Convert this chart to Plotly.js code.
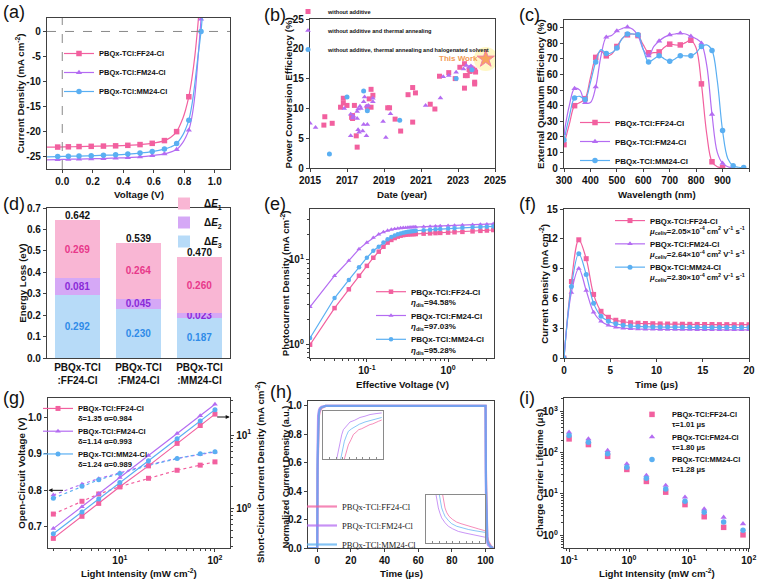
<!DOCTYPE html>
<html><head><meta charset="utf-8">
<script src="https://cdn.plot.ly/plotly-3.0.1.min.js"></script>
<style>body{margin:0;background:#fff}#chart{width:760px;height:581px}</style>
</head><body><div id="chart"></div>
<script>
// ---------- DATA ----------
const names = ['PBQx-TCl:FF24-Cl','PBQx-TCl:FM24-Cl','PBQx-TCl:MM24-Cl'];
// (a) J-V
const aV=[-0.1,-0.03,0.04,0.11,0.19,0.27,0.35,0.43,0.51,0.59,0.67,0.71,0.75,0.79,0.81,0.83,0.85,0.87,0.89,0.91,0.93];
const aMarkV=[-0.03,0.04,0.11,0.19,0.27,0.35,0.43,0.51,0.59,0.67,0.75,0.83,0.91];
const aFF=[-23.2,-23.2,-23.15,-23.1,-23.05,-23.0,-22.95,-22.85,-22.7,-22.45,-21.9,-21.3,-20.1,-17.5,-15.6,-13.1,-9.5,-4.8,1.5,9,18];
const aFM=[-25.75,-25.7,-25.65,-25.6,-25.55,-25.5,-25.4,-25.3,-25.15,-24.9,-24.55,-24.2,-23.7,-22.3,-21.2,-19.8,-17.2,-12.8,-5.5,2.5,12];
const aMM=[-25.15,-25.1,-25.05,-25.0,-24.95,-24.85,-24.75,-24.6,-24.4,-24.1,-23.6,-23.2,-22.5,-20.8,-19.5,-17.8,-14.8,-10.3,-5.0,0.0,8];
// (b) PCE survey
const bPinkYear=[2015.8,2015.75,2016.2,2016.65,2016.8,2016.8,2017.0,2017.25,2017.3,2017.3,2017.4,2017.5,2017.55,2018.1,2018.2,2018.3,2018.3,2018.4,2019.2,2019.3,2019.6,2019.9,2020.3,2020.55,2020.55,2020.7,2021.5,2021.75,2022.0,2022.5,2022.85,2023.1,2023.35,2023.4,2023.35,2023.5,2023.6,2023.65,2023.7,2023.8,2023.9,2023.95,2023.9,2023.9];
const bPinkPCE=[8.6,7.2,7.5,10.2,11.7,10.9,10.5,8.5,8.8,8.3,10.5,5.4,3.5,10.2,11.6,13.2,10.2,12.2,10.1,10.1,8.2,6.2,12.3,13.5,7.7,12.6,10.7,9.9,15.4,16.0,15.0,16.9,17.5,15.5,13.4,15.5,16.5,16.2,16.8,16.6,16.4,16.1,14.4,14.1];
const bPurpleYear=[2015.0,2015.3,2016.85,2017.2,2017.2,2017.3,2017.35,2017.55,2017.55,2017.6,2017.6,2017.65,2017.7,2017.75,2017.85,2017.9,2017.9,2017.95,2018.05,2018.05,2018.1,2018.15,2018.4,2018.4,2018.95,2019.1,2019.35,2021.25,2022.05,2022.2,2022.5,2022.9,2023.3,2023.45,2023.6,2023.7,2023.8];
const bPurplePCE=[7.5,6.8,10.0,9.0,5.4,8.4,8.7,8.3,9.5,9.9,6.4,6.0,10.35,10.0,6.2,7.3,11.1,11.9,10.35,5.4,7.3,10.5,11.1,11.7,7.8,5.1,9.1,10.5,11.75,15.3,15.5,16.05,16.6,17.2,16.9,17.1,16.6];
const bBlueYear=[2016.05,2017.0,2017.9,2018.1,2019.85,2022.9,2023.75];
const bBluePCE=[2.35,11.9,12.9,9.6,8.0,15.0,16.5];
const bStarYear=[2024.5], bStarPCE=[18.3];
const bNames=['without additive','without additive and thermal annealing','without additive, thermal annealing and halogenated solvent'];
// (c) EQE
const cWL=[300,320,340,360,380,400,420,440,460,480,500,520,540,560,580,600,620,640,660,680,700,720,740,760,780,800,820,840,860,880,900,920,940,960,980];
const cFF=[15,28,40,42,44.5,58,71,75,72,73,78,83,85.5,86,85,79,74,74,74.5,77.5,79.5,79,79,80.5,82,77,54,22,4,0.8,0.2];
const cFM=[22,40,51,50,42,42,52,72,84,85,88,89.5,90.5,89,85,76,72,78,81.5,84,85.5,86,86.5,86,84.5,83,80,66,34.5,10,3,0.8,0.2];
const cMM=[18,33,45,46,44,55,68,76,73.5,74,77,83,86,86,85.5,76,68,70,72,70,68.5,70,72,72,72,74,78,79,75.5,56,24,6,1.5,0.5,0.3];
// (d) energy loss
const dCats=['PBQx-TCl<br>:FF24-Cl','PBQx-TCl<br>:FM24-Cl','PBQx-TCl<br>:MM24-Cl'];
const dE1=[0.269,0.264,0.260];
const dE2=[0.081,0.045,0.023];
const dE3=[0.292,0.230,0.187];
const dTotal=[0.642,0.539,0.470];
// (e) Jph-Veff
const eV=[0.02,0.04,0.06,0.08,0.10,0.12,0.14,0.16,0.18,0.20,0.22,0.24,0.26,0.28,0.30,0.32,0.34,0.36,0.38,0.40,0.5,0.6,0.7,0.8,1.0,1.2,1.5,2.0,2.5,3.0,3.6];
const eFF=[1.0,2.7,4.5,6.5,8.5,10.6,12.5,14.3,16.0,17.2,18.1,18.8,19.3,19.6,19.8,19.95,20.05,20.1,20.15,20.2,20.4,20.55,20.7,20.8,21.0,21.2,21.4,21.7,22.0,22.2,22.5];
const eFM=[2.8,6.5,9.8,13.4,16.0,18.3,20.0,21.3,22.2,22.8,23.2,23.5,23.7,23.85,24.0,24.1,24.2,24.3,24.35,24.4,24.6,24.8,24.95,25.1,25.3,25.5,25.7,26.0,26.2,26.4,26.6];
const eMM=[1.2,3.55,5.8,8.2,10.6,12.8,14.3,16.0,17.5,18.6,19.4,20.0,20.5,20.9,21.2,21.45,21.65,21.8,21.95,22.05,22.4,22.7,22.9,23.1,23.4,23.6,23.9,24.2,24.45,24.6,24.8];
const eEta=['94.58%','97.03%','95.28%'];
// (f) CELIV
const fT=[0,0.8,1.6,2.4,3.2,4.0,4.8,5.6,6.4,7.2,8.0,8.8,9.6,10.4,11.2,12.0,12.8,13.6,14.4,15.2,16.0,16.8,17.6,18.4,19.2,20.0];
const fFF=[0,7.7,11.9,10.0,6.4,4.7,4.1,3.8,3.65,3.55,3.5,3.47,3.45,3.43,3.42,3.41,3.4,3.39,3.38,3.37,3.37,3.36,3.36,3.35,3.35,3.35];
const fFM=[0,6.6,9.0,6.8,4.6,3.7,3.3,3.1,3.0,2.95,2.92,2.9,2.89,2.88,2.87,2.87,2.86,2.86,2.85,2.85,2.85,2.84,2.84,2.84,2.84,2.84];
const fMM=[0,7.2,10.5,8.4,5.5,4.2,3.7,3.45,3.3,3.22,3.18,3.15,3.13,3.12,3.11,3.1,3.1,3.09,3.09,3.08,3.08,3.08,3.07,3.07,3.07,3.07];
const fMu=['2.05','2.64','2.30'];
// (g) light-intensity dependence
const gI=[2,4,6,10,20,40,70,100];
const gVocFF=[0.735,0.770,0.790,0.810,0.833,0.855,0.869,0.878];
const gVocFM=[0.787,0.817,0.832,0.848,0.870,0.888,0.899,0.905];
const gVocMM=[0.778,0.811,0.829,0.846,0.868,0.887,0.900,0.906];
const gJscFF=[0.39,0.78,1.17,1.97,3.8,7.7,13.5,19.3];
const gJscFM=[0.53,1.05,1.58,2.64,5.25,10.5,18.3,26.3];
const gJscMM=[0.45,0.89,1.34,2.25,4.45,8.9,15.5,22.2];
const gDelta=['1.35','1.14','1.24'], gAlpha=['0.984','0.993','0.989'];
// (h) TPC normalized
const hT=[-5.5,-0.2,0,0.2,0.5,1,1.5,2.5,5,99.8,100,100.2,100.5,101,101.5,102,103,104.5];
const hFF=[0,0,0,0.55,0.85,0.93,0.96,0.985,1,1,1,0.55,0.2,0.08,0.05,0.035,0.015,0];
const hFM=[0,0,0,0.7,0.93,0.97,0.985,0.995,1,1,1,0.4,0.12,0.04,0.02,0.015,0.005,0];
const hMM=[0,0,0,0.62,0.9,0.95,0.975,0.99,1,1,1,0.48,0.16,0.06,0.035,0.025,0.01,0];
const hRiseT_FF=[0.65,0.72,0.77,0.85,0.92,1.0,1.08,1.17,1.25,1.33,1.42,1.5,1.58,1.67,1.77];
const hRiseY_FF=[0.85,0.875,0.894,0.91,0.926,0.933,0.941,0.944,0.949,0.953,0.957,0.959,0.964,0.967,0.971];
const hRiseT_FM=[0.42,0.47,0.52,0.57,0.62,0.7,0.82,0.95,1.12,1.27,1.42,1.6,1.77];
const hRiseY_FM=[0.85,0.878,0.905,0.925,0.941,0.952,0.965,0.97,0.979,0.983,0.988,0.991,0.993];
const hRiseT_MM=[0.54,0.6,0.65,0.71,0.77,0.87,0.97,1.1,1.27,1.42,1.57,1.77];
const hRiseY_MM=[0.85,0.88,0.905,0.922,0.936,0.944,0.951,0.958,0.965,0.969,0.975,0.979];
const hFallT_FF=[100.5,100.53,100.57,100.62,100.69,100.8,100.92,101.05,101.22,101.4,101.57,101.77];
const hFallY_FF=[0.15,0.13,0.109,0.095,0.083,0.073,0.065,0.06,0.054,0.049,0.044,0.038];
const hFallT_FM=[100.3,100.33,100.37,100.42,100.47,100.57,100.67,100.8,100.97,101.17,101.37,101.57,101.77];
const hFallY_FM=[0.15,0.13,0.109,0.092,0.078,0.063,0.052,0.044,0.036,0.031,0.026,0.022,0.018];
const hFallT_MM=[100.4,100.43,100.47,100.52,100.57,100.67,100.77,100.92,101.07,101.27,101.47,101.77];
const hFallY_MM=[0.15,0.13,0.109,0.095,0.083,0.07,0.06,0.052,0.047,0.042,0.038,0.033];
// (i) lifetime
const iI=[0.1,0.21,0.44,0.92,1.95,4.1,8.6,18,38,80];
const iFF=[214,156,81,39,20,11,5.5,2.8,1.55,1.02];
const iFM=[309,214,112,53,28,16,8.3,4.3,2.7,1.88];
const iMM=[257,178,93,44,24,13.2,6.6,3.6,2.1,1.32];
const iTau=['1.01','1.80','1.28'];

// ---------- STYLE ----------
const F='Liberation Sans, Arial, Helvetica, sans-serif';
const FSERIF='Liberation Serif, Times New Roman, serif';
const COL=['#F2609F','#B46CF2','#5AAFF2'];
const SYM=['square','triangle-up','circle'];
const W=760,H=581;
function dx(a,b){return [a/W,b/W];}
function dy(t,b){return [1-b/H,1-t/H];}
const tickF={family:F,size:10,color:'#111',weight:'bold'};
const titleF={family:F,size:9.7,color:'#111',weight:'bold'};
function axis(o){
  const a={showline:true,linecolor:'#404040',linewidth:1.2,mirror:true,ticks:'outside',ticklen:3,tickwidth:1,tickcolor:'#404040',showgrid:false,zeroline:false,tickfont:tickF,fixedrange:true};
  return Object.assign(a,o);
}
const minorLog={ticks:'outside',ticklen:2,tickcolor:'#404040',dtick:'D1'};
function leg(xpx,ypx,size,extra){
  return Object.assign({x:xpx/W,y:1-ypx/H,xanchor:'left',yanchor:'top',bgcolor:'rgba(0,0,0,0)',borderwidth:0,
    font:{family:F,size:size,color:'#111',weight:'bold'},tracegroupgap:0,itemwidth:30},extra||{});
}
function selIdx(xs,marks){const r=[];xs.forEach((v,i)=>{if(marks.includes(v))r.push(i);});return r;}

const traces=[];
// (a)
[aFF,aFM,aMM].forEach((y,k)=>traces.push({x:aV,y:y,xaxis:'x',yaxis:'y',type:'scatter',mode:'lines+markers',name:names[k],legend:'legend',
  line:{color:COL[k],width:1.2,shape:'spline'},marker:{symbol:SYM[k],size:5.5,color:COL[k]},
  selectedpoints:selIdx(aV,aMarkV),selected:{marker:{opacity:1}},unselected:{marker:{opacity:0}}}));
// (b)
traces.push({x:bStarYear,y:bStarPCE,xaxis:'x2',yaxis:'y2',type:'scatter',mode:'markers',showlegend:false,hoverinfo:'skip',
  marker:{size:24,color:'rgba(255,240,150,0.55)'}});
[[bPinkYear,bPinkPCE],[bPurpleYear,bPurplePCE],[bBlueYear,bBluePCE]].forEach((d,k)=>traces.push({x:d[0],y:d[1],xaxis:'x2',yaxis:'y2',type:'scatter',mode:'markers',
  name:bNames[k],legend:'legend2',marker:{symbol:SYM[k],size:5,color:COL[k]}}));
traces.push({x:bStarYear,y:bStarPCE,xaxis:'x2',yaxis:'y2',type:'scatter',mode:'markers',showlegend:false,
  marker:{symbol:'star',size:13,color:'#F7A45E',line:{color:'#F27FA8',width:1}}});
// (c)
const cMarkWL=[300,340,380,420,460,500,540,580,620,660,700,740,780,820,860,900,940,980];
[cFF,cFM,cMM].forEach((y,k)=>{const xs=cWL.slice(0,y.length);traces.push({x:xs,y:y,xaxis:'x3',yaxis:'y3',type:'scatter',mode:'lines+markers',name:names[k],legend:'legend3',
  line:{color:COL[k],width:1.2,shape:'spline'},marker:{symbol:SYM[k],size:5.5,color:COL[k]},
  selectedpoints:selIdx(xs,cMarkWL),selected:{marker:{opacity:1}},unselected:{marker:{opacity:0}}});});
// (d)
const dFill=['#B7DBF8','#D5A8F6','#F9B6D4'];
const dText=['#2F8BE8','#8A2BD8','#E8388A'];
[[dE3,'Δ<i>E</i><sub>3</sub>'],[dE2,'Δ<i>E</i><sub>2</sub>'],[dE1,'Δ<i>E</i><sub>1</sub>']].forEach((d,k)=>traces.push({
  x:dCats,y:d[0],xaxis:'x4',yaxis:'y4',type:'bar',name:d[1],legend:'legend4',marker:{color:dFill[k],line:{width:0}},
  texttemplate:'%{y:.3f}',textposition:'inside',insidetextanchor:'middle',textangle:0,
  textfont:{family:F,size:10,color:dText[k],weight:'bold'},hoverinfo:'skip'}));
// (e)
[eFF,eFM,eMM].forEach((y,k)=>traces.push({x:eV,y:y,xaxis:'x5',yaxis:'y5',type:'scatter',mode:'lines+markers',
  name:names[k]+'<br><i>η</i><sub>dis</sub>='+eEta[k],legend:'legend5',
  line:{color:COL[k],width:1.2},marker:{symbol:SYM[k],size:4.5,color:COL[k]}}));
// (f)
[fFF,fFM,fMM].forEach((y,k)=>traces.push({x:fT,y:y,xaxis:'x6',yaxis:'y6',type:'scatter',mode:'lines+markers',
  name:names[k]+'<br><i>μ</i><sub>celiv</sub>='+fMu[k]+'×10<sup>-4</sup> cm<sup>2</sup> V<sup>-1</sup> s<sup>-1</sup>',legend:'legend6',
  line:{color:COL[k],width:1.2,shape:'spline'},marker:{symbol:SYM[k],size:5,color:COL[k]}}));
// (g)
[gVocFF,gVocFM,gVocMM].forEach((y,k)=>traces.push({x:gI,y:y,xaxis:'x7',yaxis:'y7',type:'scatter',mode:'lines+markers',showlegend:false,
  line:{color:COL[k],width:1.2,dash:'dot'},marker:{symbol:SYM[k],size:5,color:COL[k]}}));
[gJscFF,gJscFM,gJscMM].forEach((y,k)=>traces.push({x:gI,y:y,xaxis:'x7',yaxis:'y8',type:'scatter',mode:'lines+markers',
  name:names[k]+'<br>δ='+gDelta[k]+' α='+gAlpha[k],legend:'legend7',
  line:{color:COL[k],width:1.2},marker:{symbol:SYM[k],size:5,color:COL[k]}}));
// (h)
[hFF,hFM,hMM].forEach((y,k)=>traces.push({x:hT,y:y,xaxis:'x9',yaxis:'y9',type:'scatter',mode:'lines',name:names[k],legend:'legend9',
  opacity:0.75,line:{color:COL[k],width:2.2}}));
[[hRiseT_FF,hRiseY_FF],[hRiseT_FM,hRiseY_FM],[hRiseT_MM,hRiseY_MM]].forEach((d,k)=>traces.push({x:d[0],y:d[1],xaxis:'x10',yaxis:'y10',type:'scatter',mode:'lines',showlegend:false,
  line:{color:COL[k],width:0.9},opacity:0.8}));
[[hFallT_FF,hFallY_FF],[hFallT_FM,hFallY_FM],[hFallT_MM,hFallY_MM]].forEach((d,k)=>traces.push({x:d[0],y:d[1],xaxis:'x11',yaxis:'y11',type:'scatter',mode:'lines',showlegend:false,
  line:{color:COL[k],width:0.9},opacity:0.8}));
// (i)
[iFF,iFM,iMM].forEach((y,k)=>traces.push({x:iI,y:y,xaxis:'x12',yaxis:'y12',type:'scatter',mode:'markers',
  name:names[k]+'<br>τ='+iTau[k]+' μs',legend:'legend12',marker:{symbol:SYM[k],size:5.5,color:COL[k]}}));

// ---------- LAYOUT ----------
const layout={width:W,height:H,margin:{l:0,r:0,t:0,b:0,autoexpand:false},paper_bgcolor:'#fff',plot_bgcolor:'#fff',
  font:{family:F,color:'#111'},showlegend:true,barmode:'stack',bargap:0.26,
  uniformtext:{mode:'show',minsize:9.5},
  xaxis:axis({domain:dx(47,230),anchor:'y',range:[-0.1,1.1],dtick:0.2,tickformat:'.1f'}),
  yaxis:axis({domain:dy(18,169),anchor:'x',range:[-27.6,2.7],tickvals:[0,-5,-10,-15,-20,-25],ticktext:['0','-5','-10','-15','-20','-25']}),
  xaxis2:axis({domain:dx(310,495),anchor:'y2',range:[2015,2025],tick0:2015,dtick:2}),
  yaxis2:axis({domain:dy(19,168),anchor:'x2',range:[0,25],tickvals:[0,5,10,15,20,25]}),
  xaxis3:axis({domain:dx(564,749),anchor:'y3',range:[300,1000],dtick:100}),
  yaxis3:axis({domain:dy(20,168),anchor:'x3',range:[0,95],tickvals:[0,10,20,30,40,50,60,70,80,90]}),
  xaxis4:axis({domain:dx(47,230),anchor:'y4',type:'category',ticks:''}),
  yaxis4:axis({domain:dy(208,358),anchor:'x4',range:[0,0.7],dtick:0.1,tickformat:'.1f'}),
  xaxis5:axis({domain:dx(310,494),anchor:'y5',type:'log',range:[-1.70,0.565],tickvals:[0.1,1],ticktext:['10<sup>-1</sup>','10<sup>0</sup>'],minor:minorLog}),
  yaxis5:axis({domain:dy(209,358),anchor:'x5',type:'log',range:[-0.157,1.6],tickvals:[1,10],ticktext:['10<sup>0</sup>','10<sup>1</sup>'],minor:minorLog}),
  xaxis6:axis({domain:dx(564,749),anchor:'y6',range:[0,20],dtick:5}),
  yaxis6:axis({domain:dy(209,358),anchor:'x6',range:[0,15],tickvals:[0,3,6,9,12,15]}),
  xaxis7:axis({domain:dx(48,230),anchor:'y7',type:'log',range:[0.245,2.158],tickvals:[10,100],ticktext:['10<sup>1</sup>','10<sup>2</sup>'],minor:minorLog}),
  yaxis7:axis({domain:dy(398,548),anchor:'x7',range:[0.642,1.053],dtick:0.1,tickformat:'.1f',mirror:false}),
  yaxis8:axis({overlaying:'y7',side:'right',anchor:'x7',type:'log',range:[-0.54,1.505],mirror:false,tickvals:[1,10],ticktext:['10<sup>0</sup>','10<sup>1</sup>'],minor:minorLog}),
  xaxis9:axis({domain:dx(308,494),anchor:'y9',range:[-5.5,105],dtick:20}),
  yaxis9:axis({domain:dy(401,548),anchor:'x9',range:[0,1.035],dtick:0.2,tickformat:'.1f'}),
  xaxis10:axis({domain:dx(322.7,382.7),anchor:'y10',range:[0,1.8],showticklabels:false,ticks:'inside',ticklen:2,dtick:0.2,linecolor:'#8a8a8a',tickcolor:'#8a8a8a',linewidth:1}),
  yaxis10:axis({domain:dy(410.7,459),anchor:'x10',range:[0.85,1.0],showticklabels:false,ticks:'',linecolor:'#8a8a8a',linewidth:1}),
  xaxis11:axis({domain:dx(426,485),anchor:'y11',range:[100,101.77],showticklabels:false,ticks:'inside',ticklen:2,dtick:0.2,linecolor:'#8a8a8a',tickcolor:'#8a8a8a',linewidth:1}),
  yaxis11:axis({domain:dy(494.7,543),anchor:'x11',range:[0,0.15],showticklabels:false,ticks:'',linecolor:'#8a8a8a',linewidth:1}),
  xaxis12:axis({domain:dx(564,749),anchor:'y12',type:'log',range:[-1.085,2.003],tickvals:[0.1,1,10,100],ticktext:['10<sup>-1</sup>','10<sup>0</sup>','10<sup>1</sup>','10<sup>2</sup>'],minor:minorLog}),
  yaxis12:axis({domain:dy(398,548),anchor:'x12',type:'log',range:[-0.31,3.32],tickvals:[1,10,100,1000],ticktext:['10<sup>0</sup>','10<sup>1</sup>','10<sup>2</sup>','10<sup>3</sup>'],minor:minorLog}),
  legend:leg(59,39,7.5),
  legend2:leg(288,-3,5.6),
  legend3:leg(575,108,8),
  legend4:leg(164,189,10,{traceorder:'reversed'}),
  legend5:leg(371,280,8,{valign:'top'}),
  legend6:leg(610,209,7.8,{valign:'top'}),
  legend7:leg(38,397,7.6,{valign:'top'}),
  legend9:leg(302,492,8.5,{font:{family:FSERIF,size:8.5,color:'#222'}}),
  legend12:leg(632,403,7.5,{valign:'top'}),
  shapes:[
    {type:'line',xref:'x',yref:'y domain',x0:0,x1:0,y0:0,y1:1,line:{color:'#888',width:1,dash:'dash'}},
    {type:'line',xref:'x domain',yref:'y',x0:0,x1:1,y0:0,y1:0,line:{color:'#888',width:1,dash:'dash'}}
  ],
  annotations:[]
};
function ann(text,xpx,ypx,angle,extra){
  layout.annotations.push(Object.assign({xref:'paper',yref:'paper',x:xpx/W,y:1-ypx/H,xanchor:'center',yanchor:'middle',showarrow:false,
    text:text,textangle:angle||0,font:titleF},extra||{}));
}
// totals above stacked bars (d)
dCats.forEach((c,i)=>layout.annotations.push({xref:'x4',yref:'y4',x:c,y:dTotal[i],yanchor:'bottom',yshift:-3,showarrow:false,
  text:dTotal[i].toFixed(3),font:{family:F,size:10,color:'#111',weight:'bold'}}));
// axis titles
ann('Voltage (V)',138.5,194);
ann('Date (year)',402.5,194);
ann('Wavelength (nm)',656.5,194);
ann('Effective Voltage (V)',402,384);
ann('Time (μs)',656.5,384);
ann('Light Intensity (mW cm<sup>-2</sup>)',139,573);
ann('Time (μs)',401,573);
ann('Light Intensity (mW cm<sup>-2</sup>)',656.5,573);
ann('Current Density (mA cm<sup>-2</sup>)',20.7,93.5,-90);
ann('Power Conversion Efficiency (%)',288,93.5,-90);
ann('External Quantum Efficiency (%)',541,94,-90);
ann('Energy Loss (eV)',21.7,283,-90);
ann('Photocurrent Density (mA cm<sup>-2</sup>)',284.7,283.5,-90);
ann('Current Density (mA cm<sup>-2</sup>)',543.3,283.5,-90);
ann('Open-Circuit Voltage (V)',20.7,473,-90);
ann('Short-Circuit Current Density (mA cm<sup>-2</sup>)',260,472,-90);
ann('Normalized Current Density (a.u.)',286.3,477,-90,{font:{family:F,size:9,color:'#111',weight:'bold'}});
ann('Charge Carrier Lifetime (μs)',539,473,-90);
// panel labels
const panelLab=[['(a)',1,0],['(b)',262,3],['(c)',517,3],['(d)',1,192],['(e)',262,192],['(f)',517,192],['(g)',1,386],['(h)',268,380],['(i)',517,386]];
panelLab.forEach(p=>layout.annotations.push({xref:'paper',yref:'paper',x:p[1]/W,y:1-p[2]/H,xanchor:'left',yanchor:'top',showarrow:false,
  text:p[0],font:{family:F,size:18,color:'#111'}}));
layout.annotations.push({xref:'x2',yref:'y2',x:bStarYear[0],y:bStarPCE[0],xanchor:'right',xshift:-6,showarrow:false,
  text:'This Work',font:{family:F,size:8,color:'#F29A55',weight:'bold'}});
// arrows in (g)
layout.annotations.push({xref:'x7',yref:'y7',x:0.25,y:0.8,ax:16,ay:0,showarrow:true,arrowhead:2,arrowsize:0.8,arrowwidth:1,arrowcolor:'#111',text:''});
layout.annotations.push({xref:'x7',yref:'y8',x:2.155,y:1.246,ax:-14,ay:0,showarrow:true,arrowhead:2,arrowsize:0.8,arrowwidth:1,arrowcolor:'#111',text:''});

Plotly.newPlot('chart',traces,layout,{staticPlot:true,displayModeBar:false});
</script></body></html>
